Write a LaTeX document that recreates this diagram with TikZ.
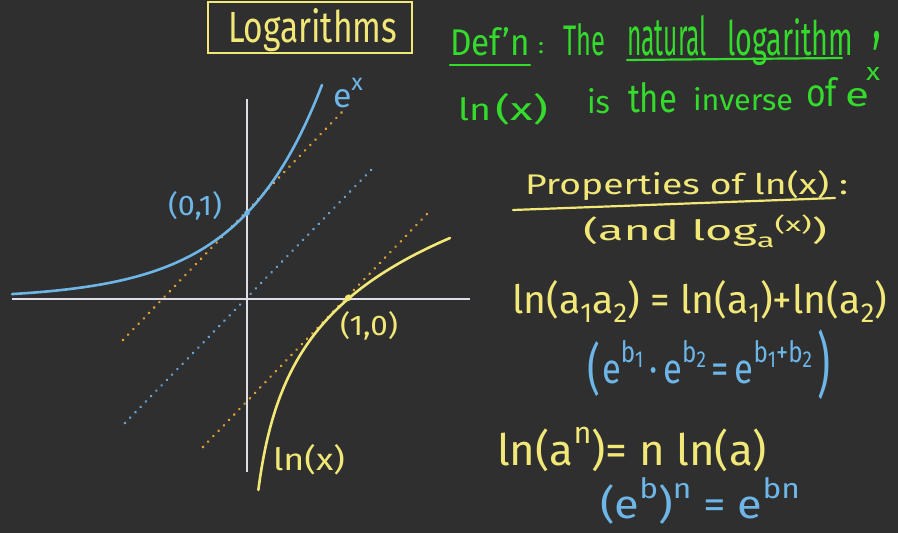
\documentclass[tikz,border=0pt]{standalone}
\usepackage{fontspec}
\setmainfont{Fira Sans}
\usepackage{graphicx}
\definecolor{bgc}{RGB}{47,47,47}
\definecolor{axc}{RGB}{222,222,232}
\definecolor{bluec}{RGB}{110,182,232}
\definecolor{yelc}{RGB}{242,232,120}
\definecolor{grnc}{RGB}{52,218,44}
\definecolor{orgc}{RGB}{226,160,52}
\definecolor{bdotc}{RGB}{100,162,212}
\newcommand\up[1]{\raisebox{0.5em}{\fontsize{7}{8}\selectfont #1}}
\newcommand\dn[1]{\raisebox{-0.25em}{\fontsize{7}{8}\selectfont #1}}
\newcommand\dns[1]{\raisebox{-0.2em}{\fontsize{5.5}{6}\selectfont #1}}
\newcommand\wrd[6]{\node[txt,text=#6] (#1) at (#2) {\resizebox{#3pt}{#4pt}{#5}};}
\begin{document}
\begin{tikzpicture}[x=1pt,y=-1pt,
  txt/.style={inner sep=0pt,outer sep=0pt,anchor=base west},
  tall/.style={inner sep=0pt,outer sep=0pt,anchor=north west},
  curve/.style={line width=2.6pt,line cap=round},
  dots/.style={line width=2.9pt,line cap=round,dash pattern=on 0.01pt off 7.5pt},
  axis/.style={axc,line width=2.4pt},
  uline/.style={line width=2.2pt,line cap=round}]
\fill[bgc] (0,0) rectangle (898,533);
\useasboundingbox (0,0) rectangle (898,533);
% axes
\coordinate (xl) at (12,299); \coordinate (xr) at (470,299);
\coordinate (yt) at (247,99);  \coordinate (yb) at (247,472);
% dotted reference lines
\coordinate (o1a) at (123,340); \coordinate (o1b) at (342,112);
\coordinate (o2a) at (203,447); \coordinate (o2b) at (428,213);
\coordinate (ba) at (125,423);  \coordinate (bb) at (373,168);
\draw[dots,orgc] (o1a) -- (o1b);
\draw[dots,orgc] (o2a) -- (o2b);
\draw[dots,bdotc] (ba) -- (bb);
\draw[axis] (xl) -- (xr);
\draw[axis] (yt) -- (yb);
% curves
\draw[curve,bluec] plot[domain=-235:75,samples=90] ({247+\x},{299-86*exp(0.01216*\x)});
\draw[curve,yelc] plot[domain=-191:61,samples=90] ({247+101*exp(0.01145*\x)},{299-\x});
\fill[bluec] (247,213) circle (2.8);
\fill[yelc] (348,298) circle (3.2);
% graph labels
\wrd{ex}{333,107}{30}{29}{e\up{x}}{bluec}
\wrd{p01}{168,215}{54}{24}{(0,1)}{bluec}
\wrd{p10}{340,335}{58}{24}{(1,0)}{yelc}
\wrd{lnx}{273,470}{72}{26}{ln(x)}{yelc}
% title
\draw[yelc,line width=2pt] (208,2) rectangle (412,53);
\wrd{title}{228,42}{169}{34}{Logarithms}{yelc}
% definition
\wrd{defn}{450,55}{80}{28}{Def'n}{grnc}
\wrd{colon}{538,53}{6}{11}{:}{grnc}
\wrd{the1}{563,55}{42}{32}{The}{grnc}
\wrd{natural}{627,55}{80}{40}{natural}{grnc}
\wrd{logarithm}{727,55}{126}{37}{logarithm}{grnc}
\node[tall,text=grnc] (comma) at (872,31) {\resizebox*{9pt}{19pt}{,}};
\draw[grnc,uline] (450,65) -- (530,65);
\draw[grnc,uline] (627,60) -- (842,58);
\wrd{ln1}{458,120}{33}{23}{ln}{grnc}
\wrd{x1}{495,120}{53}{27}{(x)}{grnc}
\wrd{is}{587,113}{23}{25}{is}{grnc}
\wrd{the2}{628,112}{49}{30}{the}{grnc}
\wrd{inverse}{693,110}{100}{23}{inverse}{grnc}
\wrd{of}{806,106}{31}{29}{of}{grnc}
\wrd{e1}{845,106}{24}{18}{e}{grnc}
\wrd{xsup}{866,80}{14}{13}{x}{grnc}
% properties
\wrd{props}{525,194}{323}{24}{Properties of ln(x) :}{yelc}
\draw[yelc,uline] (513,210) -- (835,198);
\wrd{andlog}{583,240}{244}{25}{(and log\dn{a}\raisebox{0.3em}{\fontsize{7}{8}\selectfont (x)})}{yelc}
\wrd{prop1}{512,313}{375}{33}{ln(a\dn{1}a\dn{2}) = ln(a\dn{1})+ln(a\dn{2})}{yelc}
\node[tall,text=bluec] (bp1) at (587,342) {\resizebox*{13pt}{55pt}{(}};
\wrd{blue1}{602,383}{210}{43}{e\up{b\dns{1}}\,·\,e\up{b\dns{2}}\,=\,e\up{b\dns{1}+b\dns{2}}}{bluec}
\node[tall,text=bluec] (bp2) at (817,330) {\resizebox*{13pt}{70pt}{)}};
\wrd{prop2}{497,465}{270}{38}{ln(a\up{n})= n ln(a)}{yelc}
\wrd{blue2}{600,518}{200}{41}{(e\up{b})\up{n} = e\up{bn}}{bluec}
\end{tikzpicture}
\end{document}
